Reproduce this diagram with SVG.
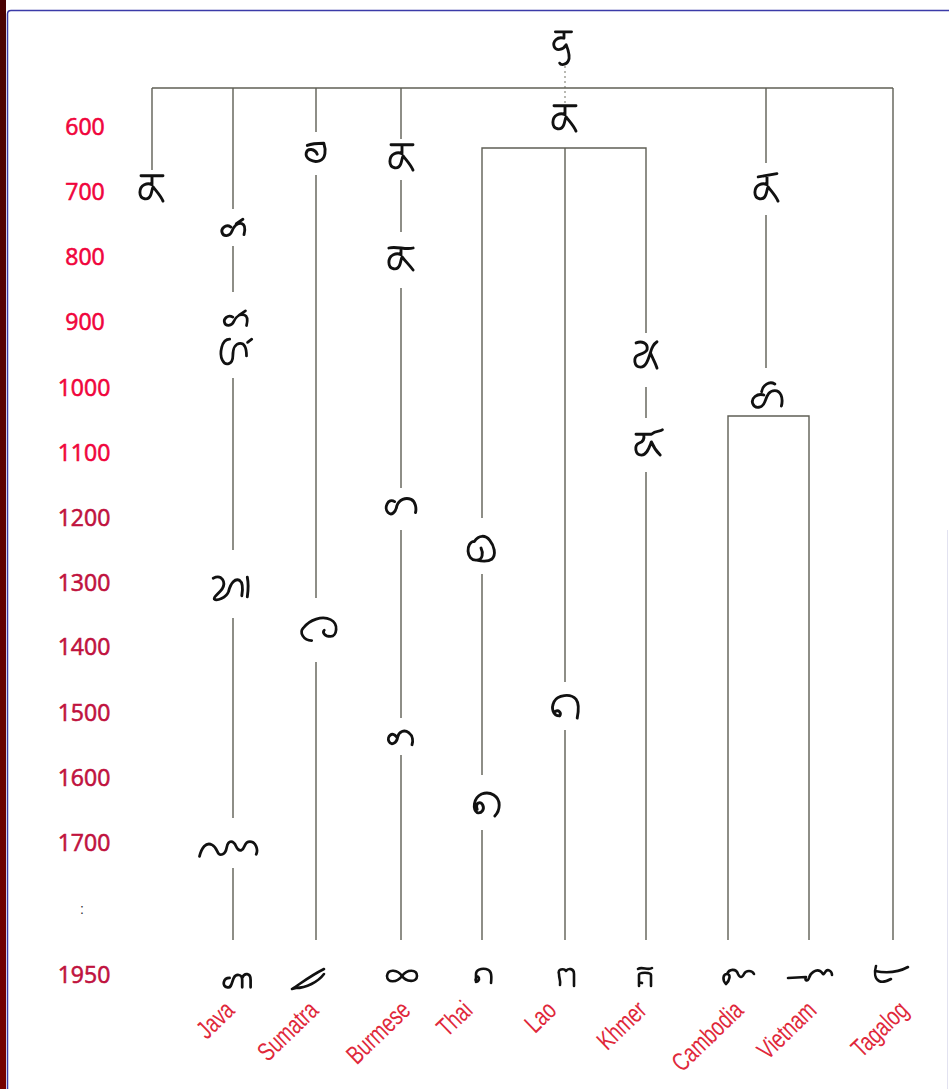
<svg xmlns="http://www.w3.org/2000/svg" width="949" height="1089" viewBox="0 0 949 1089">
  <defs>
    <linearGradient id="edge" x1="0" y1="0" x2="0" y2="1">
      <stop offset="0" stop-color="#4a0303"/>
      <stop offset="1" stop-color="#760000"/>
    </linearGradient>
  </defs>
  <style>
    .ln{stroke:#5f5f55;stroke-width:1.4;fill:none}
    .dot{stroke:#8a8a80;stroke-width:1.2;stroke-dasharray:2 3;fill:none}
    .g{fill:none;stroke:#111;stroke-width:2.6;stroke-linecap:round;stroke-linejoin:round}
    .yr{font-family:"Open Sans","Liberation Sans",sans-serif;font-size:23px;text-anchor:middle;stroke-width:0.6}
    .a{fill:#f0053c;stroke:#f0053c}
    .b{fill:#c0123e;stroke:#c0123e}
    .lb{font-family:"Liberation Sans",sans-serif;font-size:26px;fill:#e0283a;text-anchor:end}
  </style>

  <!-- page frame -->
  <rect x="0" y="0" width="949" height="1089" fill="#ffffff"/>
  <rect x="0" y="0" width="6" height="1089" fill="url(#edge)"/>
  <path d="M7.5,1089 V14 Q7.5,10.5 11,10.5 H949" fill="none" stroke="#3b3ba8" stroke-width="1.5"/>
  <path d="M947.5,530 V1089" fill="none" stroke="#e2e2f0" stroke-width="1"/>

  <!-- time axis -->
  <g id="axis">
    <text class="yr a" x="85" y="135">600</text>
    <text class="yr a" x="85" y="200">700</text>
    <text class="yr a" x="85" y="265">800</text>
    <text class="yr a" x="85" y="330">900</text>
    <text class="yr a" x="84" y="396">1000</text>
    <text class="yr a" x="84" y="461">1100</text>
    <text class="yr b" x="84" y="526">1200</text>
    <text class="yr b" x="84" y="591">1300</text>
    <text class="yr b" x="84" y="655">1400</text>
    <text class="yr b" x="84" y="721">1500</text>
    <text class="yr b" x="84" y="786">1600</text>
    <text class="yr b" x="84" y="851">1700</text>
    <text x="82" y="914" font-family="Liberation Sans, sans-serif" font-size="14" fill="#333" text-anchor="middle">:</text>
    <text class="yr b" x="84" y="983">1950</text>
  </g>

  <!-- lineage connectors -->
  <g id="connectors">
    <path class="dot" d="M565,66 V104"/>
    <path class="ln" d="M152,88 H893"/>
    <path class="ln" d="M152,88 V170"/>
    <path class="ln" d="M233,88 V209 M233,246 V292 M233,378 V550 M233,618 V818 M233,868 V940"/>
    <path class="ln" d="M316,88 V132 M316,175 V598 M316,662 V940"/>
    <path class="ln" d="M401,88 V139 M401,180 V232 M401,288 V488 M401,530 V718 M401,755 V940"/>
    <path class="ln" d="M565,148 V682 M565,730 V940"/>
    <path class="ln" d="M482,518 V148 H646 V333 M646,387 V418 M646,472 V940"/>
    <path class="ln" d="M482,574 V775 M482,830 V940"/>
    <path class="ln" d="M766,88 V163 M766,215 V368"/>
    <path class="ln" d="M728,940 V416 H809 V940"/>
    <path class="ln" d="M893,88 V940"/>
  </g>

  <!-- forms of the letter ka, by period -->
  <g id="root-ka" transform="translate(564,48) scale(1.08)">
    <path class="g" d="M-8,-15 H7 M0,-15 V-9 C-6,-11 -11,-6 -9,-1 C-7,3 -1,2 2,-3 C4,2 6,8 4,12 C2,16 -3,16 -4,14"/>
  </g>
  <g id="ka-600" transform="translate(565,119) scale(1.1)">
    <path class="g" d="M-10,-12 H10 M0,-12 V-4 C-4,-6 -11,-4 -11,3 C-11,10 -3,11 -1,5 C0,2 0,0 1,-2 C4,2 8,6 10,11"/>
  </g>
  <g id="ka-700-west" transform="translate(152,189) scale(1.1)">
    <path class="g" d="M-10,-12 H10 M0,-12 V-4 C-4,-6 -11,-4 -11,3 C-11,10 -3,11 -1,5 C0,2 0,0 1,-2 C4,2 8,6 10,11"/>
  </g>
  <g id="sumatra-600" transform="translate(315,152) scale(1.1)">
    <path class="g" d="M-7,-6 C-2,-8 4,-8 8,-8 C10,-2 10,6 4,8 C-2,10 -9,6 -8,1 C-7,-4 0,-3 2,2"/>
  </g>
  <g id="burmese-700" transform="translate(402,158) scale(1.1)">
    <path class="g" d="M-10,-12 H10 M0,-12 V-4 C-4,-6 -11,-4 -11,3 C-11,10 -3,11 -1,5 C0,2 0,0 1,-2 C4,2 8,6 10,11"/>
  </g>
  <g id="cham-700" transform="translate(767,189) scale(1.1)">
    <path class="g" d="M-8,-11 L9,-14 M0,-12 V-4 C-4,-6 -11,-4 -11,3 C-11,10 -3,11 -1,5 C0,2 0,0 1,-2 C4,2 8,6 10,11"/>
  </g>
  <g id="java-800" transform="translate(233,228) scale(1.1)">
    <path class="g" d="M-2,-1 C-7,-4 -11,1 -10,4 C-9,8 -3,8 -1,3 C1,-2 4,-5 8,-4 C11,-3 11,2 10,6 M3,-4 L9,-8"/>
  </g>
  <g id="burmese-800" transform="translate(401,259) scale(1.1)">
    <path class="g" d="M-11,-10 C-4,-12 4,-8 11,-10 M0,-10 V-4 C-4,-6 -11,-4 -11,3 C-11,10 -3,11 -1,5 C0,2 0,0 1,-2 C4,2 8,6 11,10"/>
  </g>
  <g id="java-900" transform="translate(236,335) scale(1.05)">
    <path class="g" d="M-3,-17 C-8,-20 -12,-15 -11,-12 C-10,-8 -4,-8 -2,-13 C0,-18 4,-20 8,-19 C11,-18 11,-13 10,-9 M3,-19 L9,-23"/>
    <path class="g" d="M-6,4 C-14,4 -16,18 -13,24 C-10,30 -3,28 -3,20 C-3,12 0,8 4,8 C8,8 10,12 10,20 M11,7 L15,4"/>
  </g>
  <g id="khmer-900" transform="translate(646,355) scale(1.1)">
    <path class="g" d="M-9,-11 C-4,-13 2,-11 1,-5 C0,-2 -4,-1 -7,0 C-12,2 -11,11 -5,11 C0,11 2,4 4,-2 C5,-6 7,-10 10,-12 M4,-2 C6,3 9,8 10,12"/>
  </g>
  <g id="cham-1000" transform="translate(766,395) scale(1.1)">
    <path class="g" d="M-2,0 C-8,-2 -14,3 -12,8 C-10,13 -3,12 -1,6 C1,0 3,-4 8,-4 C13,-4 16,2 14,10 M-4,-3 C-3,-9 3,-13 8,-10"/>
  </g>
  <g id="khmer-1100" transform="translate(647,443) scale(1.1)">
    <path class="g" d="M-10,-8 H4 C8,-12 12,-10 14,-12 M-3,-8 C-2,-3 -4,-1 -7,0 C-12,2 -11,11 -5,11 C0,11 2,4 4,-1 C6,4 9,8 12,11"/>
  </g>
  <g id="burmese-1200" transform="translate(399,506) scale(1.1)">
    <path class="g" d="M-4,-4 C-10,-8 -14,2 -10,6 C-7,9 -3,6 -2,0 C0,-6 6,-8 11,-6 C15,-4 16,2 15,6"/>
  </g>
  <g id="thai-1300" transform="translate(481,548) scale(1.1)">
    <path class="g" d="M-6,-6 C-14,-6 -14,12 -4,11 C2,11 2,4 0,0 M-6,-6 C-2,-12 4,-12 8,-7 C12,-2 14,6 10,10 C6,13 0,12 -4,11"/>
  </g>
  <g id="java-1300" transform="translate(233,587) scale(1.1)">
    <path class="g" d="M-18,-8 C-10,-12 -6,-4 -10,2 C-13,6 -18,9 -17,11 C-15,13 -6,10 -4,4 C-2,-4 2,-8 6,-6 C9,-4 9,2 8,8 M13,-9 C14,-4 14,2 13,9"/>
  </g>
  <g id="sumatra-1400" transform="translate(318,628) scale(1.05)">
    <path class="g" d="M-6,12 C-14,12 -18,4 -14,0 C-8,-8 4,-12 12,-8 C20,-4 18,8 12,8 C6,8 4,4 6,2"/>
  </g>
  <g id="lao-1500" transform="translate(564,706) scale(1.1)">
    <path class="g" d="M-4,9 C-10,9 -12,2 -9,-4 C-6,-10 6,-12 11,-6 C14,-2 13,6 12,11 M-4,9 C-2,6 -5,3 -8,5"/>
  </g>
  <g id="burmese-1550" transform="translate(401,737) scale(1.1)">
    <path class="g" d="M-4,0 C-8,-6 -13,0 -11,4 C-9,8 -4,6 -3,0 C-2,-5 3,-7 7,-4 C11,-1 11,4 10,7"/>
  </g>
  <g id="thai-1600" transform="translate(486,805) scale(1.1)">
    <path class="g" d="M-8,4 C-10,-2 -5,-4 -3,0 C-1,4 -4,8 -8,7 C-12,4 -12,-6 -4,-10 C4,-13 12,-8 12,0 C12,5 10,8 8,10"/>
  </g>
  <g id="java-1700" transform="translate(231,848) scale(1.05)">
    <path class="g" d="M-30,8 C-28,0 -24,-6 -18,-3 C-12,0 -14,8 -8,6 C-2,4 -6,-6 0,-6 C6,-6 4,4 10,2 C14,0 12,-6 18,-6 C24,-6 26,2 24,6"/>
  </g>

  <!-- modern letters -->
  <g id="java" transform="translate(238,980) scale(1.05)">
    <path class="g" d="M-8,-2 C-14,-2 -16,6 -10,7 C-6,8 -6,2 -4,-2 C-2,-6 4,-6 4,0 V7 M4,-2 C6,-7 12,-7 12,0 V7"/>
  </g>
  <g id="sumatra" transform="translate(308,978)">
    <path class="g" d="M-16,11 C-8,6 2,-2 16,-9 M-12,10 C-2,10 10,4 16,-4 M-16,11 L-12,10"/>
  </g>
  <g id="burmese" transform="translate(402,976)">
    <path class="g" d="M0,0 C-4,-6 -14,-8 -15,0 C-15,7 -5,7 0,0 C5,-7 15,-7 15,0 C15,7 4,6 0,0"/>
  </g>
  <g id="thai" transform="translate(483,976)">
    <path class="g" d="M-7,6 V-2 C-7,-6 -2,-8 3,-7 C8,-6 9,-2 8,7 M-7,0 C-4,0 -3,3 -5,5 C-7,7 -8,4 -7,2"/>
  </g>
  <g id="lao" transform="translate(566,977)">
    <path class="g" d="M-7,-3 C-9,-8 -2,-9 0,-6 C2,-9 8,-9 8,-3 V9 M-7,-3 C-7,2 -5,4 -6,8"/>
  </g>
  <g id="khmer" transform="translate(645,977)">
    <path class="g" d="M-7,-8 C-3,-11 3,-6 7,-9 M-6,9 V-2 C-6,-5 6,-5 6,-2 V9 M-6,5 L-3,6"/>
  </g>
  <g id="cambodia" transform="translate(736,976)">
    <path class="g" d="M-10,8 C-14,4 -13,-2 -9,-2 C-5,-2 -6,4 -10,8 M-9,-2 C-7,-7 0,-8 2,-2 C4,2 6,2 8,-2 C10,-6 16,-6 18,-2"/>
  </g>
  <g id="vietnam" transform="translate(810,975)">
    <path class="g" d="M-22,3 L-4,2 C-6,6 -2,7 -1,3 C0,-2 6,-6 10,-4 C14,-2 12,2 16,-4 C18,-6 22,-4 22,0"/>
  </g>
  <g id="tagalog" transform="translate(889,975)">
    <path class="g" d="M-14,-4 C-4,-2 8,-2 19,-8 M-13,-9 C-15,-2 -14,4 -10,6 C-6,8 -2,6 2,4"/>
  </g>

  <!-- region names -->
  <g id="labels">
    <text class="lb" transform="translate(236,1012) rotate(-44) scale(0.74,1)">Java</text>
    <text class="lb" transform="translate(320,1012) rotate(-44) scale(0.74,1)">Sumatra</text>
    <text class="lb" transform="translate(412,1012) rotate(-44) scale(0.74,1)">Burmese</text>
    <text class="lb" transform="translate(474,1012) rotate(-44) scale(0.74,1)">Thai</text>
    <text class="lb" transform="translate(558,1012) rotate(-44) scale(0.74,1)">Lao</text>
    <text class="lb" transform="translate(648,1012) rotate(-44) scale(0.74,1)">Khmer</text>
    <text class="lb" transform="translate(745,1012) rotate(-44) scale(0.74,1)">Cambodia</text>
    <text class="lb" transform="translate(818,1012) rotate(-44) scale(0.74,1)">Vietnam</text>
    <text class="lb" transform="translate(910,1012) rotate(-44) scale(0.74,1)">Tagalog</text>
  </g>
</svg>
